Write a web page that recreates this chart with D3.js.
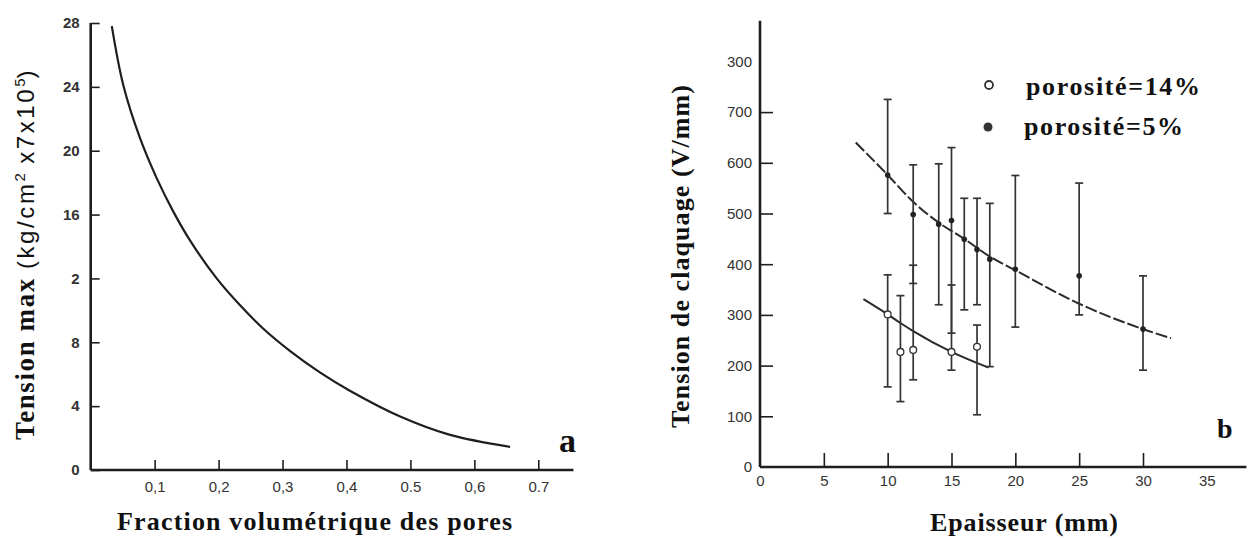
<!DOCTYPE html>
<html>
<head>
<meta charset="utf-8">
<script src="https://cdn.jsdelivr.net/npm/d3@7"></script>
<style>
  html, body { margin: 0; padding: 0; background: #fff; }
  svg { display: block; }
</style>
</head>
<body>
<svg id="chart" width="1255" height="540"></svg>
<script>
// ---- Panel a : maximum stress vs pore volume fraction ----
const fractionPores = [0.033, 0.051, 0.077, 0.103, 0.129, 0.155, 0.197, 0.234, 0.27, 0.312, 0.359, 0.406, 0.484, 0.562, 0.656];
const tensionMax    = [27.8, 24.1, 20.8, 18.3, 16.2, 14.4, 12.0, 10.3, 8.85, 7.45, 6.1, 4.95, 3.35, 2.2, 1.45];
const xTicksA       = [0.1, 0.2, 0.3, 0.4, 0.5, 0.6, 0.7];
const xTickLabelsA  = ["0,1", "0,2", "0,3", "0,4", "0.5", "0,6", "0.7"];
const yTicksA       = [0, 4, 8, 12, 16, 20, 24, 28];
const yTickLabelsA  = ["0", "4", "8", "2", "16", "20", "24", "28"];

// ---- Panel b : breakdown voltage vs thickness ----
const epaisseur5  = [10, 12, 14, 15, 16, 17, 18, 20, 25, 30];
const tension5    = [576, 498, 479, 486, 449, 429, 410, 390, 377, 272];
const min5        = [500, 362, 320, 264, 310, 320, 198, 276, 300, 191];
const max5        = [725, 596, 598, 630, 530, 530, 520, 575, 560, 377];

const epaisseur14 = [10, 11, 12, 15, 17];
const tension14   = [301, 227, 231, 227, 237];
const min14       = [158, 129, 172, 191, 103];
const max14       = [379, 338, 398, 359, 280];

const fitX5  = [7.5, 10, 12, 14, 16, 18, 20, 25, 30, 32.2];
const fitY5  = [640, 576, 523, 482, 450, 415, 388, 322, 272, 254];
const fitX14 = [8.1, 10, 11, 12, 15, 17.9];
const fitY14 = [331, 301, 284, 268, 227, 196];

const xTicksB      = [0, 5, 10, 15, 20, 25, 30, 35];
const xTickLabelsB = ["0", "5", "10", "15", "20", "25", "30", "35"];
const yTicksB      = [0, 100, 200, 300, 400, 500, 600, 700, 800];
const yTickLabelsB = ["0", "100", "200", "300", "400", "500", "600", "700", "300"];

const legendLabels = ["porosité=14%", "porosité=5%"];

const INK = "#1e1e1e";
const TICK_FONT = "'Liberation Sans Narrow', 'Liberation Sans', Arial, sans-serif";
const SERIF = "'Liberation Serif', 'Times New Roman', serif";

const svg = d3.select("#chart");

// ================= Panel a =================
const xA = d3.scaleLinear().domain([0, 0.7]).range([90.7, 538.3]);
const yA = d3.scaleLinear().domain([0, 28]).range([470, 23]);

const gA = svg.append("g");

function styleAxis(g) {
  g.select(".domain").remove();
  g.selectAll(".tick line").attr("stroke", INK).attr("stroke-width", 1.6);
  g.selectAll(".tick text")
    .attr("fill", "#333")
    .attr("font-family", TICK_FONT)
    .attr("font-size", 15);
}

gA.append("g")
  .attr("transform", `translate(0,${yA(0)})`)
  .call(d3.axisBottom(xA).tickValues(xTicksA)
    .tickFormat((d, i) => xTickLabelsA[i])
    .tickSizeInner(-10).tickSizeOuter(0).tickPadding(11))
  .call(styleAxis);

gA.append("g")
  .attr("transform", `translate(${xA(0)},0)`)
  .call(d3.axisLeft(yA).tickValues(yTicksA)
    .tickFormat((d, i) => yTickLabelsA[i])
    .tickSizeInner(-9).tickSizeOuter(0).tickPadding(11))
  .call(styleAxis)
  .call(g => g.selectAll(".tick text").attr("font-weight", "bold"));

// axis lines
gA.append("line")
  .attr("x1", xA(0)).attr("x2", xA(0))
  .attr("y1", yA(0)).attr("y2", yA(28))
  .attr("stroke", INK).attr("stroke-width", 2.6);
gA.append("line")
  .attr("x1", xA(0)).attr("x2", xA(0.755))
  .attr("y1", yA(0)).attr("y2", yA(0))
  .attr("stroke", INK).attr("stroke-width", 2.4);

// curve
const lineA = d3.line()
  .x((d, i) => xA(fractionPores[i]))
  .y(d => yA(d))
  .curve(d3.curveCatmullRom.alpha(0.5));
gA.append("path")
  .attr("d", lineA(tensionMax))
  .attr("fill", "none")
  .attr("stroke", INK)
  .attr("stroke-width", 2.2);

// titles
gA.append("text")
  .attr("x", 314.5).attr("y", 530)
  .attr("text-anchor", "middle")
  .attr("font-family", SERIF).attr("font-weight", "bold")
  .attr("font-size", 26).attr("fill", "#111")
  .attr("textLength", 395).attr("lengthAdjust", "spacing")
  .text("Fraction volumétrique des pores");

const yTitleA = gA.append("text")
  .attr("transform", "translate(34,440) rotate(-90)")
  .attr("fill", "#111");
yTitleA.append("tspan")
  .attr("font-family", SERIF).attr("font-weight", "bold")
  .attr("font-size", 27).attr("letter-spacing", 1.6)
  .text("Tension max");
yTitleA.append("tspan")
  .attr("font-family", "'Liberation Sans', Arial, sans-serif")
  .attr("font-size", 24).attr("letter-spacing", 2.6)
  .attr("dx", 8)
  .text("(kg/cm");
yTitleA.append("tspan")
  .attr("font-family", "'Liberation Sans', Arial, sans-serif")
  .attr("font-size", 15).attr("dy", -9)
  .text("2");
yTitleA.append("tspan")
  .attr("font-family", "'Liberation Sans', Arial, sans-serif")
  .attr("font-size", 24).attr("letter-spacing", 2.6).attr("dy", 9)
  .text(" x7x10");
yTitleA.append("tspan")
  .attr("font-family", "'Liberation Sans', Arial, sans-serif")
  .attr("font-size", 15).attr("dy", -9)
  .text("5");
yTitleA.append("tspan")
  .attr("font-family", "'Liberation Sans', Arial, sans-serif")
  .attr("font-size", 24).attr("dy", 9)
  .text(")");

gA.append("text")
  .attr("x", 559).attr("y", 452)
  .attr("font-family", SERIF).attr("font-weight", "bold")
  .attr("font-size", 34).attr("fill", "#111")
  .text("a");

// ================= Panel b =================
const xB = d3.scaleLinear().domain([0, 30]).range([760, 1143]);
const yB = d3.scaleLinear().domain([0, 800]).range([467, 61.4]);

const gB = svg.append("g");

gB.append("g")
  .attr("transform", `translate(0,${yB(0)})`)
  .call(d3.axisBottom(xB).tickValues(xTicksB)
    .tickFormat((d, i) => xTickLabelsB[i])
    .tickSizeInner(-14).tickSizeOuter(0).tickPadding(8))
  .call(styleAxis)
  .call(g => g.selectAll(".tick line").filter(d => d === 0 || d === 35).remove());

gB.append("g")
  .attr("transform", `translate(${xB(0)},0)`)
  .call(d3.axisLeft(yB).tickValues(yTicksB)
    .tickFormat((d, i) => yTickLabelsB[i])
    .tickSizeInner(-13).tickSizeOuter(0).tickPadding(8))
  .call(styleAxis)
  .call(g => g.selectAll(".tick line").filter(d => d === 0 || d === 800).remove());

gB.append("line")
  .attr("x1", xB(0)).attr("x2", xB(0))
  .attr("y1", yB(0)).attr("y2", yB(880))
  .attr("stroke", INK).attr("stroke-width", 2.6);
gB.append("line")
  .attr("x1", xB(0)).attr("x2", xB(38.1))
  .attr("y1", yB(0)).attr("y2", yB(0))
  .attr("stroke", INK).attr("stroke-width", 2.4);

// fitted trends
const fitLine = d3.curveMonotoneX;
gB.append("path")
  .attr("d", d3.line().x((d, i) => xB(fitX5[i])).y(d => yB(d)).curve(fitLine)(fitY5))
  .attr("fill", "none").attr("stroke", "#2a2a2a")
  .attr("stroke-width", 2).attr("stroke-dasharray", "12,3");
gB.append("path")
  .attr("d", d3.line().x((d, i) => xB(fitX14[i])).y(d => yB(d)).curve(fitLine)(fitY14))
  .attr("fill", "none").attr("stroke", "#2a2a2a")
  .attr("stroke-width", 2);

// error bars
function errorBars(xs, lo, hi) {
  const g = gB.append("g").attr("stroke", "#333").attr("stroke-width", 1.7);
  xs.forEach((x, i) => {
    const px = xB(x);
    g.append("line").attr("x1", px).attr("x2", px)
      .attr("y1", yB(lo[i])).attr("y2", yB(hi[i]));
    [lo[i], hi[i]].forEach(v => {
      g.append("line").attr("x1", px - 4).attr("x2", px + 4)
        .attr("y1", yB(v)).attr("y2", yB(v));
    });
  });
}
errorBars(epaisseur5, min5, max5);
errorBars(epaisseur14, min14, max14);

// markers
gB.append("g").selectAll("circle")
  .data(tension5).join("circle")
  .attr("cx", (d, i) => xB(epaisseur5[i]))
  .attr("cy", d => yB(d))
  .attr("r", 2.8)
  .attr("fill", "#222");
gB.append("g").selectAll("circle")
  .data(tension14).join("circle")
  .attr("cx", (d, i) => xB(epaisseur14[i]))
  .attr("cy", d => yB(d))
  .attr("r", 3.4)
  .attr("fill", "#fff").attr("stroke", "#333").attr("stroke-width", 1.3);

// legend
const legend = gB.append("g");
legend.append("circle").attr("cx", 989).attr("cy", 85).attr("r", 4)
  .attr("fill", "#fff").attr("stroke", "#333").attr("stroke-width", 1.8);
legend.append("circle").attr("cx", 988).attr("cy", 127).attr("r", 4.5)
  .attr("fill", "#333");
legend.append("text")
  .attr("x", 1026).attr("y", 95)
  .attr("font-family", SERIF).attr("font-weight", "bold")
  .attr("font-size", 26).attr("fill", "#111")
  .attr("textLength", 174).attr("lengthAdjust", "spacing")
  .text(legendLabels[0]);
legend.append("text")
  .attr("x", 1024).attr("y", 135)
  .attr("font-family", SERIF).attr("font-weight", "bold")
  .attr("font-size", 26).attr("fill", "#111")
  .attr("textLength", 159).attr("lengthAdjust", "spacing")
  .text(legendLabels[1]);

// titles
gB.append("text")
  .attr("x", 1024).attr("y", 531)
  .attr("text-anchor", "middle")
  .attr("font-family", SERIF).attr("font-weight", "bold")
  .attr("font-size", 26).attr("fill", "#111")
  .attr("textLength", 188).attr("lengthAdjust", "spacing")
  .text("Epaisseur (mm)");

gB.append("text")
  .attr("transform", "translate(689,256.5) rotate(-90)")
  .attr("text-anchor", "middle")
  .attr("font-family", SERIF).attr("font-weight", "bold")
  .attr("font-size", 26).attr("fill", "#111")
  .attr("textLength", 343).attr("lengthAdjust", "spacing")
  .text("Tension de claquage (V/mm)");

gB.append("text")
  .attr("x", 1217).attr("y", 438)
  .attr("font-family", SERIF).attr("font-weight", "bold")
  .attr("font-size", 28).attr("fill", "#111")
  .text("b");
</script>
</body>
</html>
